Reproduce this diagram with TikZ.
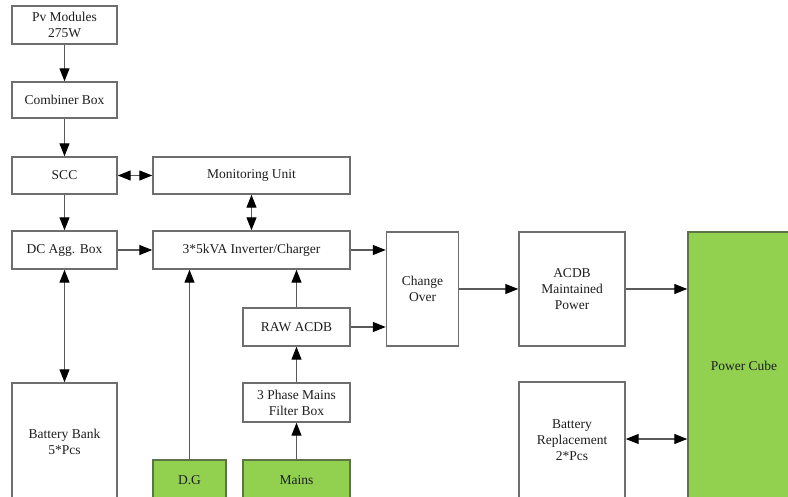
\documentclass[tikz,border=0pt]{standalone}
\usepackage{fontspec}
\setmainfont{Liberation Serif}
\usetikzlibrary{arrows.meta}
\definecolor{edgegray}{HTML}{6E6E6E}
\definecolor{linegray}{HTML}{5A5A5A}
\definecolor{cubegreen}{HTML}{92D050}
\definecolor{greenedge}{HTML}{5E7448}
\definecolor{txt}{HTML}{1E1E1E}
\tikzset{
  blk/.style={draw=edgegray, line width=1.4pt, fill=white, inner sep=0pt,
    align=center, text=txt, font=\rmfamily\fontsize{13.5}{16}\selectfont},
  src/.style={blk, fill=cubegreen, draw=greenedge},
  tip/.tip={Triangle[length=13pt,width=10pt,color=black]},
  flow/.style={draw=linegray, line width=1.2pt, -tip},
  both/.style={draw=linegray, line width=1.2pt, tip-tip},
}
\begin{document}
\begin{tikzpicture}[x=1pt,y=-1pt]
\useasboundingbox (0,0) rectangle (788,497);
\clip (0,0) rectangle (788,497);
\fill[white] (0,0) rectangle (788,497);

% PV string and DC side
\node[blk, minimum width=105pt, minimum height=38pt] (pv) at (64.5,25) {Pv Modules\\275W};
\node[blk, minimum width=105pt, minimum height=36pt] (comb) at (64.5,100) {Combiner Box};
\node[blk, minimum width=105pt, minimum height=37pt] (scc) at (64.5,175.5) {SCC};
\node[blk, minimum width=105pt, minimum height=38pt] (dcagg) at (64.5,250) {DC Agg. Box};
\node[blk, minimum width=105pt, minimum height=117pt] (bank) at (64.5,441.5) {Battery Bank\\5*Pcs};

% Inverter and monitoring
\node[blk, minimum width=197pt, minimum height=37pt] (mon) at (251.5,175.5) {Monitoring Unit};
\node[blk, minimum width=197pt, minimum height=38pt] (inv) at (251.5,250) {3*5kVA Inverter/Charger};

% AC sources
\node[src, minimum width=73pt, minimum height=40pt] (dg) at (189.5,480) {D.G};
\node[src, minimum width=107pt, minimum height=40pt] (mains) at (296.5,480) {Mains};
\node[blk, minimum width=107pt, minimum height=39pt] (filt) at (296.5,402.5) {3 Phase Mains\\Filter Box};
\node[blk, minimum width=107pt, minimum height=38pt] (raw) at (296.5,327) {RAW ACDB};

% AC distribution
\node[blk, minimum width=72pt, minimum height=114pt] (co) at (422.5,289) {Change\\Over};
\node[blk, minimum width=106pt, minimum height=114pt] (acdb) at (572,289) {ACDB\\Maintained\\Power};
\node[blk, minimum width=106pt, minimum height=117pt] (brep) at (572,440.5) {Battery\\Replacement\\2*Pcs};
\node[src, minimum width=112pt, minimum height=268pt] (cube) at (744,366) {Power Cube};

% connectors
\draw[flow] (pv) -- (comb);
\draw[flow] (comb) -- (scc);
\draw[flow] (scc) -- (dcagg);
\draw[both] (scc) -- (mon);
\draw[both] (mon) -- (inv);
\draw[flow] (dcagg) -- (inv);
\draw[both] (dcagg) -- (bank);
\draw[flow] (dg) -- (dg |- inv.south);
\draw[flow] (mains) -- (filt);
\draw[flow] (filt) -- (raw);
\draw[flow] (raw) -- (raw |- inv.south);
\draw[flow] (inv.east) -- (co.west |- inv.east);
\draw[flow] (raw.east) -- (co.west |- raw.east);
\draw[flow] (co) -- (acdb);
\draw[flow] (acdb.east) -- (cube.west |- acdb.east);
\draw[both] (brep.east |- 0,439) -- (cube.west |- 0,439);
\end{tikzpicture}
\end{document}
